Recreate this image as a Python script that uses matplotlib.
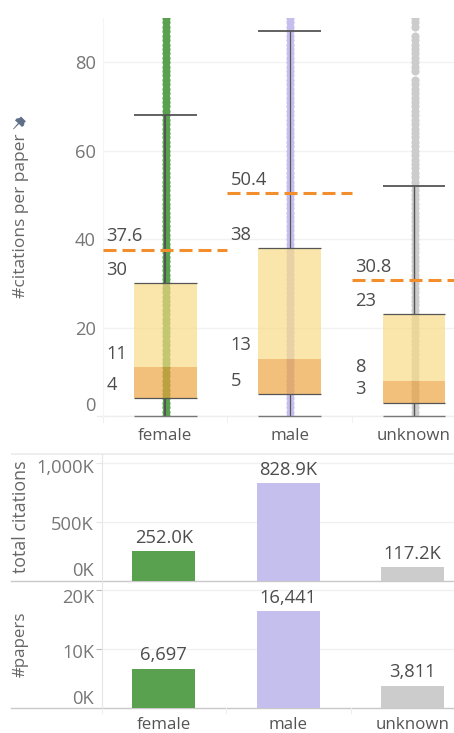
import matplotlib
matplotlib.use("Agg")
import matplotlib.pyplot as plt
from matplotlib.patches import Polygon, Rectangle
from matplotlib.transforms import ScaledTranslation

plt.rcParams['font.family'] = ['Open Sans', 'DejaVu Sans']

# ---------------- Data ----------------
categories = ["female", "male", "unknown"]
whisker_high = [68.1, 87.0, 52.0]
whisker_low = [0, 0, 0]
q3 = [30, 38, 23]
median = [11, 13, 8]
q1 = [4, 5, 3]
means = [37.6, 50.4, 30.8]
total_citations = [252.0, 828.9, 117.2]
total_citation_labels = ["252.0K", "828.9K", "117.2K"]
papers = [6697, 16441, 3811]
paper_labels = ["6,697", "16,441", "3,811"]

# citation counts seen as points (strips are solid up to the top of the axis)
female_points = [0, 1, 2, 3, 4, 5, 6, 7, 8, 9, 10, 11, 12, 13, 14, 15, 16, 17, 18, 19, 20, 21, 22, 23,
                 24, 25, 26, 27, 28, 29, 30, 31, 32, 33, 34, 35, 36, 37, 38, 39, 40, 41, 42, 43, 44, 45,
                 46, 47, 48, 49, 50, 51, 52, 53, 54, 55, 56, 57, 58, 59, 60, 61, 62, 63, 64, 65, 66, 67,
                 68, 69, 70, 71, 72, 73, 74, 75, 76, 77, 78, 79, 80, 81, 82, 83, 84, 85, 86, 87, 88, 89,
                 90, 91]
male_points = [0, 1, 2, 3, 4, 5, 6, 7, 8, 9, 10, 11, 12, 13, 14, 15, 16, 17, 18, 19, 20, 21, 22, 23,
               24, 25, 26, 27, 28, 29, 30, 31, 32, 33, 34, 35, 36, 37, 38, 39, 40, 41, 42, 43, 44, 45,
               46, 47, 48, 49, 50, 51, 52, 53, 54, 55, 56, 57, 58, 59, 60, 61, 62, 63, 64, 65, 66, 67,
               68, 69, 70, 71, 72, 73, 74, 75, 76, 77, 78, 79, 80, 81, 82, 83, 84, 85, 86, 87, 88, 89,
               90, 91]
unknown_points = [0, 1, 2, 3, 4, 5, 6, 7, 8, 9, 10, 11, 12, 13, 14, 15, 16, 17, 18, 19, 20, 21, 22, 23,
                  24, 25, 26, 27, 28, 29, 30, 31, 32, 33, 34, 35, 36, 37, 38, 39, 40, 41, 42, 43, 44, 45,
                  46, 47, 48, 49, 50, 51, 52, 53, 54, 55, 56, 57, 58, 59, 60, 61, 62, 63, 64, 65, 66, 67,
                  68, 69, 70, 71, 72, 73, 74, 75, 76, 78, 79, 80, 81, 82, 83, 84, 85, 86, 88, 89, 90, 91]
strip_points = [female_points, male_points, unknown_points]

W, H = 454, 733
CELL = 124.4
GENDER_COLORS = ["#59a14f", "#c5bfee", "#cccccc"]
WHISKER_LW = [1.5, 0.9, 1.0]
TEXT = "#4d4d4d"
AXIS_TEXT = "#777777"
FS = 12.2      # words
FS_NUM = 13.2  # numbers run a little wider in the original font


def add_axes_px(left, top, bottom):
    ax = fig.add_axes([left / W, 1 - bottom / H, (W - left) / W, (bottom - top) / H])
    for side in ["top", "right", "bottom"]:
        ax.spines[side].set_visible(False)
    ax.patch.set_alpha(0)
    return ax


def shift_label(ax, idx, dy_px):
    # Tableau nudges the outer tick labels so they stay inside the pane
    lab = ax.get_yticklabels()[idx]
    lab.set_transform(lab.get_transform() + ScaledTranslation(0, dy_px / 100, fig.dpi_scale_trans))


def hline_px(y, x0, x1, color, lw=1.0):
    # zorder -1 keeps the rule under the axes content
    fig.add_artist(plt.Line2D([x0 / W, x1 / W], [1 - y / H, 1 - y / H], color=color, lw=lw,
                              transform=fig.transFigure, zorder=-1))


def cell_ticks(y, xs, color="#e6e6e6"):
    for x in xs:
        fig.add_artist(plt.Line2D([x / W, x / W], [1 - y / H, 1 - (y + 5) / H], color=color, lw=0.8,
                                  transform=fig.transFigure, zorder=-1))


fig = plt.figure(figsize=(W / 100, H / 100), dpi=100)

# ---------------- Box plot pane ----------------
ax = add_axes_px(102.7, 18, 416.5)
x_left = -(165.2 - 102.7) / CELL
ax.set_xlim(x_left, x_left + (W - 102.7) / CELL)
ax.set_ylim(-0.1, 90)

hline_px(416.5, 97, W, "#eeeeee")
cell_ticks(416.5, [102.7, 227, 351.5], "#f0f0f0")

for i, cat in enumerate(categories):
    ax.scatter([i + 0.005] * len(strip_points[i]), strip_points[i], s=34, color=GENDER_COLORS[i],
               linewidths=0, zorder=2, clip_on=True)
    ax.vlines(i, q3[i], whisker_high[i], color="#555555", lw=WHISKER_LW[i], zorder=3)
    ax.vlines(i, whisker_low[i], q1[i], color="#555555", lw=WHISKER_LW[i], zorder=3)
    ax.bar(i, median[i] - q1[i], bottom=q1[i], width=0.506, color="#eca139", alpha=0.67, lw=0, zorder=4)
    ax.bar(i, q3[i] - median[i], bottom=median[i], width=0.506, color="#f9da82", alpha=0.67, lw=0, zorder=4)
    ax.hlines(whisker_high[i], i - 0.253, i + 0.253, color="#555555", lw=1.3, zorder=5)
    ax.hlines([q3[i], q1[i]], i - 0.253, i + 0.253, color="#555555", lw=0.9, zorder=5)
    ax.hlines(whisker_low[i], i - 0.253, i + 0.253, color="#777777", lw=1.0, zorder=5, clip_on=False)
    ax.hlines(means[i], i - 0.5, i + 0.5, color="#f28e2b", lw=2.2, zorder=6,
              linestyles=[(0, (13 * 0.72 / 2.2, 6 * 0.72 / 2.2))])
    # value labels sit at the left of each cell, just above their line
    for val, lab in [(means[i], f"{means[i]:.1f}"), (q3[i], str(q3[i])), (median[i], str(median[i])),
                     (q1[i], str(q1[i]))]:
        ax.annotate(lab, (i - 0.5, val), xytext=(2.3, 9.6), textcoords="offset points", ha="left",
                    va="center", fontsize=FS_NUM, color=TEXT, zorder=7)

ax.set_yticks([0, 20, 40, 60, 80])
ax.set_yticklabels(["0", "20", "40", "60", "80"])
ax.set_xticks(range(3))
ax.set_xticklabels(categories)
ax.tick_params(axis="y", length=0, pad=5, labelsize=FS_NUM, labelcolor=AXIS_TEXT)
ax.tick_params(axis="x", length=0, pad=8.5, labelsize=FS, labelcolor="#555555")
ax.grid(axis="y", color="#f2f2f2", lw=1)
ax.set_axisbelow(True)
ax.spines["left"].set_color("#f5f5f5")
shift_label(ax, 0, 12.5)

# ---------------- Total citations pane ----------------
ax2 = add_axes_px(101.7, 454, 581)
x_left2 = -(163.8 - 101.7) / CELL
ax2.set_xlim(x_left2, x_left2 + (W - 101.7) / CELL)
ax2.set_ylim(0, 1076)
ax2.bar(range(3), total_citations, width=0.506, color=GENDER_COLORS, lw=0, zorder=3)
for i, lab in enumerate(total_citation_labels):
    ax2.annotate(lab, (i, total_citations[i]), xytext=(0, 9.7), textcoords="offset points", ha="center",
                 va="center", fontsize=FS_NUM, color=TEXT)
ax2.set_yticks([0, 500, 1000])
ax2.set_yticklabels(["0K", "500K", "1,000K"])
ax2.set_xticks([])
ax2.tick_params(axis="y", length=4, width=0.8, color="#e6e6e6", pad=1.5, labelsize=FS_NUM, labelcolor=AXIS_TEXT)
ax2.grid(axis="y", color="#f0f0f0", lw=1)
ax2.set_axisbelow(True)
ax2.spines["left"].set_color("#e6e6e6")
shift_label(ax2, 0, 12)
shift_label(ax2, 1, -1)
shift_label(ax2, 2, -3)

# ---------------- Papers pane ----------------
ax3 = add_axes_px(101.7, 582, 708)
ax3.set_xlim(x_left2, x_left2 + (W - 101.7) / CELL)
ax3.set_ylim(0, 21430)
ax3.bar(range(3), papers, width=0.506, color=GENDER_COLORS, lw=0, zorder=3)
for i, lab in enumerate(paper_labels):
    ax3.annotate(lab, (i, papers[i]), xytext=(0, 9.7), textcoords="offset points", ha="center",
                 va="center", fontsize=FS_NUM, color=TEXT)
ax3.set_yticks([0, 10000, 20000])
ax3.set_yticklabels(["0K", "10K", "20K"])
ax3.set_xticks(range(3))
ax3.set_xticklabels(categories)
ax3.tick_params(axis="y", length=4, width=0.8, color="#bbbbbb", pad=1.5, labelsize=FS_NUM, labelcolor=AXIS_TEXT)
ax3.tick_params(axis="x", length=0, pad=6.5, labelsize=FS, labelcolor="#555555")
ax3.grid(axis="y", color="#f0f0f0", lw=1)
ax3.set_axisbelow(True)
ax3.spines["left"].set_color("#e6e6e6")
shift_label(ax3, 0, 11)
shift_label(ax3, 1, -2)
shift_label(ax3, 2, -5.5)
# the 0K tick of the two lower panes has no tick mark
for a in (ax2, ax3):
    a.yaxis.get_major_ticks()[0].tick1line.set_visible(False)

# ---------------- Pane separators ----------------
fig.add_artist(Rectangle((11 / W, 1 - 455 / H), (W - 11) / W, 2 / H, color="#eeeeee", lw=0,
                         transform=fig.transFigure, zorder=-1))
hline_px(581.3, 11, W, "#c8c8c8", 1.0)
hline_px(708.3, 11, W, "#c8c8c8", 1.0)
cell_ticks(708.3, [101.7, 226, 350.5], "#eeeeee")

# ---------------- Axis titles ----------------
fig.text(21 / W, 1 - 216 / H, "#citations per paper", rotation=90, ha="center", va="center",
         fontsize=12.5, color="#666666")
fig.text(21 / W, 1 - 516.5 / H, "total citations", rotation=90, ha="center", va="center",
         fontsize=12.8, color="#666666")
fig.text(21 / W, 1 - 644 / H, "#papers", rotation=90, ha="center", va="center",
         fontsize=FS, color="#666666")

# pin icon next to the title
pin_px = [(21, 116.5), (26, 121.5), (24.5, 122.5), (24, 125.5), (22, 127), (19, 124),
          (13.5, 129.5), (13, 129), (18, 123), (15, 120.5), (16.5, 118.5), (19.5, 118)]
fig.add_artist(Polygon([(x / W, 1 - y / H) for x, y in pin_px], closed=True, color="#5f6f88", lw=0,
                       transform=fig.transFigure))

fig.savefig("out.png", dpi=100)
